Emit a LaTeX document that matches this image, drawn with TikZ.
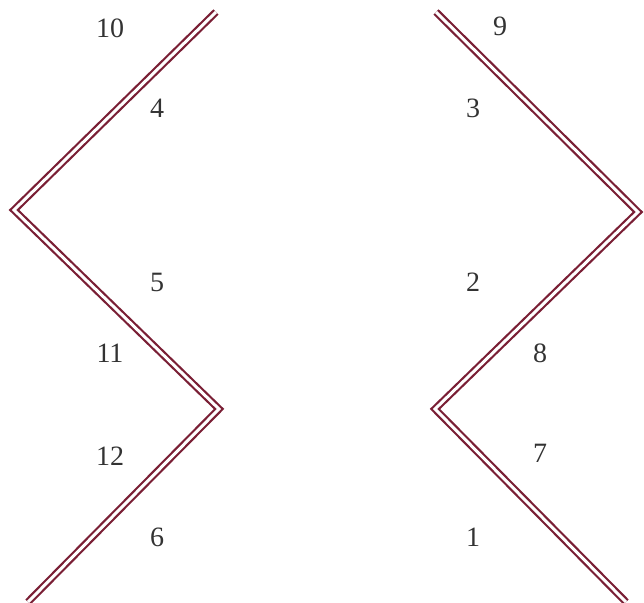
\documentclass[tikz,border=0pt]{standalone}
\usepackage{fontspec}
\setmainfont{Liberation Serif}
\definecolor{zig}{HTML}{7A1F35}
\definecolor{numc}{HTML}{333333}
\begin{document}
\begin{tikzpicture}[x=1pt,y=-1pt,
  zigline/.style={draw=zig,double=white,double distance=3pt,line width=2.2pt,line join=miter},
  num/.style={inner sep=0pt,text=numc,font=\fontsize{28}{28}\selectfont}]
\useasboundingbox (0,0) rectangle (644,602);
% left zigzag
\coordinate (la) at (216,12);
\coordinate (lb) at (14,210);
\coordinate (lc) at (219,409);
\coordinate (ld) at (28,602);
\draw[zigline] (la) -- (lb) -- (lc) -- (ld);
% right zigzag
\coordinate (ra) at (436,12);
\coordinate (rb) at (638,212);
\coordinate (rc) at (435,409);
\coordinate (rd) at (626,602);
\draw[zigline] (ra) -- (rb) -- (rc) -- (rd);
% numbers
\node[num] (n10) at (110,28) {10};
\node[num] (n4) at (157,108) {4};
\node[num] (n5) at (157,282) {5};
\node[num] (n11) at (110,353) {11};
\node[num] (n12) at (110,456) {12};
\node[num] (n6) at (157,537) {6};
\node[num] (n9) at (500,26) {9};
\node[num] (n3) at (473,108) {3};
\node[num] (n2) at (473,282) {2};
\node[num] (n8) at (540,353) {8};
\node[num] (n7) at (540,453) {7};
\node[num] (n1) at (473,537) {1};
\end{tikzpicture}
\end{document}
